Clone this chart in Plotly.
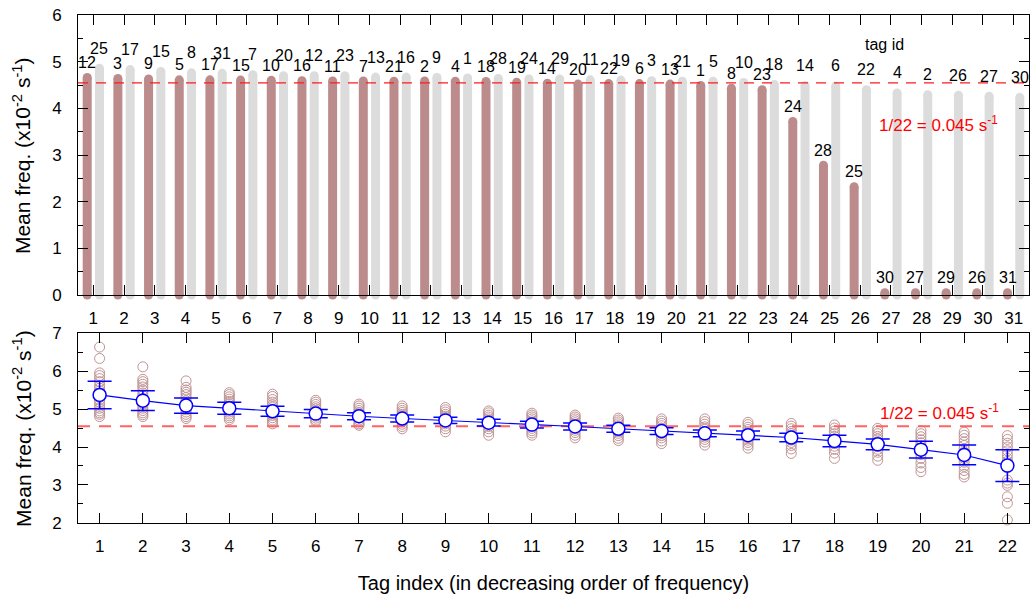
import plotly.graph_objects as go

# ---------------- data ----------------
top_index = list(range(1, 32))
brown_ids = [12, 3, 9, 5, 17, 15, 10, 16, 11, 7, 21, 2, 4, 18, 19, 14, 20, 22, 6, 13, 1, 8, 23, 24, 28, 25, 30, 27, 29, 26, 31]
brown_vals = [4.66, 4.64, 4.63, 4.61, 4.61, 4.605, 4.60, 4.59, 4.585, 4.585, 4.58, 4.585, 4.58, 4.575, 4.56, 4.54,
              4.52, 4.53, 4.53, 4.52, 4.49, 4.43, 4.40, 3.72, 2.78, 2.32, 0.05, 0.05, 0.05, 0.05, 0.05]
gray_ids = [25, 17, 15, 8, 31, 7, 20, 12, 23, 13, 16, 9, 1, 28, 24, 29, 11, 19, 3, 21, 5, 10, 18, 14, 6, 22, 4, 2, 26, 27, 30]
gray_vals = [4.86, 4.83, 4.79, 4.76, 4.75, 4.72, 4.70, 4.70, 4.70, 4.67, 4.67, 4.66, 4.65, 4.64, 4.63, 4.63,
             4.61, 4.605, 4.59, 4.58, 4.58, 4.555, 4.51, 4.49, 4.48, 4.40, 4.33, 4.29, 4.28, 4.26, 4.235]

bottom_index = list(range(1, 23))
means = [5.37, 5.22, 5.09, 5.02, 4.94, 4.88, 4.81, 4.75, 4.70, 4.64, 4.59, 4.54, 4.48, 4.42, 4.36, 4.31,
         4.25, 4.16, 4.07, 3.93, 3.79, 3.51]
errs = [0.36, 0.26, 0.20, 0.16, 0.13, 0.11, 0.09, 0.09, 0.08, 0.09, 0.09, 0.09, 0.09, 0.09, 0.09, 0.11,
        0.11, 0.15, 0.14, 0.22, 0.26, 0.42]
runs = [
    [6.63, 6.33, 5.95, 5.88, 5.80, 5.72, 5.62, 5.55, 5.48, 5.42, 5.36, 5.30, 5.24, 5.18, 5.10, 5.02, 4.95, 4.90, 4.86, 4.80],
    [6.11, 5.78, 5.72, 5.65, 5.58, 5.50, 5.42, 5.35, 5.28, 5.22, 5.15, 5.08, 5.02, 4.96, 4.90, 4.85, 4.80],
    [5.74, 5.57, 5.50, 5.44, 5.38, 5.30, 5.22, 5.15, 5.10, 5.05, 4.98, 4.92, 4.86, 4.80, 4.75],
    [5.43, 5.38, 5.32, 5.26, 5.20, 5.14, 5.08, 5.02, 4.97, 4.92, 4.87, 4.82, 4.77, 4.72],
    [5.39, 5.33, 5.25, 5.18, 5.11, 5.05, 4.99, 4.93, 4.88, 4.83, 4.77, 4.71, 4.66, 4.61],
    [5.23, 5.18, 5.12, 5.06, 5.01, 4.96, 4.91, 4.86, 4.81, 4.76, 4.71, 4.67],
    [5.13, 5.08, 5.02, 4.96, 4.91, 4.86, 4.81, 4.76, 4.71, 4.66, 4.61, 4.57],
    [5.08, 5.02, 4.96, 4.91, 4.86, 4.81, 4.76, 4.71, 4.66, 4.60, 4.54, 4.48],
    [5.04, 4.98, 4.92, 4.86, 4.81, 4.76, 4.71, 4.66, 4.61, 4.55, 4.48, 4.40],
    [4.95, 4.90, 4.84, 4.79, 4.74, 4.69, 4.64, 4.59, 4.54, 4.48, 4.40, 4.31],
    [4.89, 4.84, 4.79, 4.74, 4.69, 4.64, 4.59, 4.54, 4.49, 4.43, 4.37, 4.31],
    [4.84, 4.79, 4.74, 4.69, 4.64, 4.59, 4.54, 4.49, 4.44, 4.38, 4.31, 4.24],
    [4.76, 4.71, 4.66, 4.61, 4.56, 4.51, 4.46, 4.41, 4.36, 4.30, 4.23, 4.17],
    [4.74, 4.68, 4.62, 4.56, 4.50, 4.45, 4.40, 4.35, 4.30, 4.24, 4.16, 4.09],
    [4.74, 4.67, 4.60, 4.53, 4.47, 4.41, 4.36, 4.31, 4.26, 4.20, 4.13, 4.05],
    [4.65, 4.59, 4.52, 4.46, 4.40, 4.34, 4.29, 4.24, 4.18, 4.12, 4.05, 3.97],
    [4.62, 4.55, 4.48, 4.41, 4.35, 4.29, 4.24, 4.18, 4.12, 4.04, 3.95, 3.83],
    [4.58, 4.50, 4.42, 4.35, 4.28, 4.21, 4.15, 4.09, 4.02, 3.94, 3.84, 3.70],
    [4.49, 4.42, 4.35, 4.28, 4.21, 4.14, 4.08, 4.01, 3.94, 3.86, 3.76, 3.65],
    [4.43, 4.35, 4.27, 4.19, 4.11, 4.03, 3.95, 3.88, 3.80, 3.70, 3.58, 3.46, 3.35],
    [4.39, 4.31, 4.22, 4.13, 4.04, 3.95, 3.87, 3.79, 3.70, 3.60, 3.49, 3.38, 3.28, 3.21],
    [4.30, 4.20, 4.10, 4.00, 3.90, 3.80, 3.70, 3.62, 3.54, 3.45, 3.13, 3.05, 2.99, 2.69, 2.52, 2.08],
]
threshold = 100.0 / 22  # 1/22 s^-1 in units of 1e-2 s^-1

# ---------------- styles ----------------
FONT = "Liberation Sans, Arial, Helvetica, sans-serif"
BROWN = "#bc8c8c"
GRAY = "#dcdcdc"
OFF = 0.2


def stems(xs, vs):
    X, Y = [], []
    for x, v in zip(xs, vs):
        X += [x, x, None]
        Y += [0, v, None]
    return X, Y


fig = go.Figure()

bx, by = stems([i - OFF for i in top_index], brown_vals)
gx, gy = stems([i + OFF for i in top_index], gray_vals)
for X, Y, c in [(gx, gy, GRAY), (bx, by, BROWN)]:
    fig.add_trace(go.Scatter(x=X, y=Y, mode="lines+markers", line=dict(color=c, width=9),
                             marker=dict(color=c, size=9, line=dict(width=0)),
                             cliponaxis=False, hoverinfo="skip", showlegend=False,
                             xaxis="x", yaxis="y"))

fig.add_trace(go.Scatter(x=[0.5, 31.5], y=[threshold, threshold], mode="lines",
                         line=dict(color="#ff1a1a", width=1.2, dash="10px,8px"),
                         showlegend=False, xaxis="x", yaxis="y"))

# bottom panel
sx, sy = [], []
for i, vals in zip(bottom_index, runs):
    sx += [i] * len(vals)
    sy += vals
fig.add_trace(go.Scatter(x=sx, y=sy, mode="markers",
                         marker=dict(symbol="circle-open", size=10, color="#c09494", line=dict(width=1)),
                         cliponaxis=False, showlegend=False, xaxis="x2", yaxis="y2"))
fig.add_trace(go.Scatter(x=[0.5, 22.5], y=[threshold, threshold], mode="lines",
                         line=dict(color="#ff6464", width=2, dash="12px,9px"),
                         showlegend=False, xaxis="x2", yaxis="y2"))
fig.add_trace(go.Scatter(x=bottom_index, y=means, mode="lines+markers",
                         line=dict(color="#0000ff", width=1.2),
                         marker=dict(symbol="circle", size=13, color="white", line=dict(color="#0000ff", width=1.5)),
                         error_y=dict(type="data", array=errs, color="#0000ff", thickness=1.5, width=12),
                         cliponaxis=False, showlegend=False, xaxis="x2", yaxis="y2"))

ann = []
for i, t, v in zip(top_index, brown_ids, brown_vals):
    ann.append(dict(x=i - OFF, y=v, xref="x", yref="y", text=str(t), showarrow=False,
                    yshift=15, font=dict(size=16, color="black", family=FONT)))
for i, t, v in zip(top_index, gray_ids, gray_vals):
    ann.append(dict(x=i + OFF, y=v, xref="x", yref="y", text=str(t), showarrow=False,
                    yshift=20, font=dict(size=16, color="black", family=FONT)))
ann.append(dict(x=26.8, y=5.36, xref="x", yref="y", text="tag id", showarrow=False,
                font=dict(size=16, color="black", family=FONT)))
red_txt = "1/22 = 0.045 s<sup>-1</sup>"
ann.append(dict(x=28.55, y=3.66, xref="x", yref="y", text=red_txt, showarrow=False,
                font=dict(size=17, color="#ff0000", family=FONT)))
ann.append(dict(x=20.42, y=4.92, xref="x2", yref="y2", text=red_txt, showarrow=False,
                font=dict(size=17, color="#ff0000", family=FONT)))

# y-axis titles (placed in paper coordinates)
ytitle = "Mean freq. (x10<sup>-2</sup> s<sup>-1</sup>)"
ann.append(dict(x=-0.059, y=0.724, xref="paper", yref="paper", text=ytitle, textangle=-90,
                showarrow=False, xanchor="center", yanchor="middle",
                font=dict(size=21, color="black", family=FONT)))
ann.append(dict(x=-0.059, y=0.187, xref="paper", yref="paper", text=ytitle, textangle=-90,
                showarrow=False, xanchor="center", yanchor="middle",
                font=dict(size=21, color="black", family=FONT)))

axis_common = dict(showline=True, linecolor="black", linewidth=1, mirror="ticks", ticks="inside",
                   ticklen=10, tickcolor="black", showgrid=False, zeroline=False,
                   tickfont=dict(size=17, color="black", family=FONT))

fig.update_layout(
    width=1032, height=596,
    margin=dict(l=78, r=3, t=15, b=73),
    paper_bgcolor="white", plot_bgcolor="white",
    font=dict(family=FONT, color="black"),
    annotations=ann,
    xaxis=dict(domain=[0, 1], range=[0.5, 31.5], anchor="y", tickmode="array", tickvals=top_index,
               ticklabelstandoff=8, **axis_common),
    yaxis=dict(domain=[0.4488, 1], range=[0, 6], anchor="x", dtick=1, ticklabelstandoff=12,
               minor=dict(dtick=0.5, ticks="inside", ticklen=5, tickcolor="black"),
               **axis_common),
    xaxis2=dict(domain=[0, 1], range=[0.5, 22.5], anchor="y2", tickmode="array", tickvals=bottom_index,
                ticklabelstandoff=8,
                title=dict(text="Tag index (in decreasing order of frequency)", font=dict(size=20, family=FONT),
                           standoff=20),
                **axis_common),
    yaxis2=dict(domain=[0, 0.374], range=[2, 7], anchor="x2", dtick=1, ticklabelstandoff=12,
                minor=dict(dtick=0.5, ticks="inside", ticklen=5, tickcolor="black"),
                **axis_common),
)

fig.write_html("out.html", config={"displayModeBar": False},
               post_script="document.body.style.margin='0';document.body.style.padding='0';")
